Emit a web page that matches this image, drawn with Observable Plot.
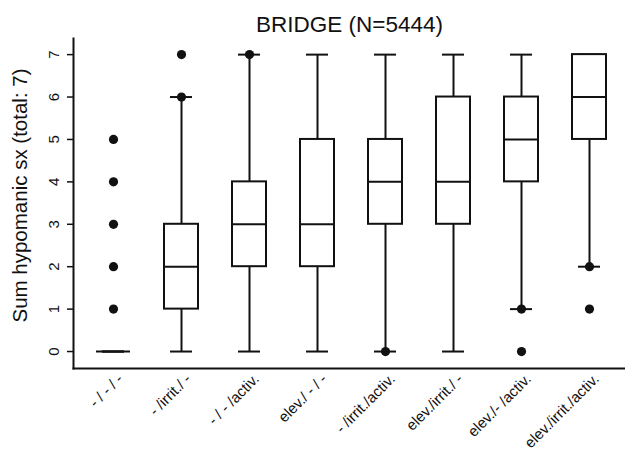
<!DOCTYPE html>
<html>
<head>
<meta charset="utf-8">
<script src="https://cdn.jsdelivr.net/npm/d3@7"></script>
<script src="https://cdn.jsdelivr.net/npm/@observablehq/plot@0.6"></script>
<style>
  body { margin: 0; background: #fff; }
</style>
</head>
<body>
<div id="chart"></div>
<script>
const title = "BRIDGE (N=5444)";
const yLabel = "Sum hypomanic sx (total: 7)";
const categories = ["- / - / -", "- /irrit./ -", "- / - /activ.", "elev./ - / -", "- /irrit./activ.", "elev./irrit./ -", "elev./- /activ.", "elev./irrit./activ."];
const q1 = [0, 1, 2, 2, 3, 3, 4, 5];
const median = [0, 2, 3, 3, 4, 4, 5, 6];
const q3 = [0, 3, 4, 5, 5, 6, 6, 7];
const whiskerLow = [0, 0, 0, 0, 0, 0, 1, 2];
const whiskerHigh = [0, 6, 7, 7, 7, 7, 7, 7];
const outliers = [[1, 2, 3, 4, 5], [6, 7], [7], [], [0], [], [1, 0], [2, 1]];
const yTicks = [0, 1, 2, 3, 4, 5, 6, 7];

const stats = categories.map((c, i) => ({
  cat: c, q1: q1[i], median: median[i], q3: q3[i], lo: whiskerLow[i], hi: whiskerHigh[i]
}));
const outlierRows = categories.flatMap((c, i) => outliers[i].map(v => ({cat: c, value: v})));

const chart = Plot.plot({
  width: 625,
  height: 454,
  marginLeft: 73,
  marginRight: 0,
  marginTop: 38,
  marginBottom: 86,
  style: {fontFamily: "'Liberation Sans', Arial, sans-serif", color: "#000", background: "#fff"},
  x: {domain: categories, padding: 0, insetLeft: 6, insetRight: 2, axis: null},
  y: {domain: [-0.4, 7.38], ticks: yTicks, axis: null},
  marks: [
    Plot.ruleX(stats, {x: "cat", y1: "lo", y2: "hi", stroke: "#111", strokeWidth: 2}),
    Plot.tickY(stats, {x: "cat", y: "lo", stroke: "#111", strokeWidth: 2, insetLeft: 23, insetRight: 23}),
    Plot.tickY(stats, {x: "cat", y: "hi", stroke: "#111", strokeWidth: 2, insetLeft: 23, insetRight: 23}),
    Plot.barY(stats, {x: "cat", y1: "q1", y2: "q3", fill: "white", stroke: "#111", strokeWidth: 2, insetLeft: 17, insetRight: 17}),
    Plot.tickY(stats, {x: "cat", y: "median", stroke: "#111", strokeWidth: 2, insetLeft: 17, insetRight: 17}),
    Plot.dot(outlierRows, {x: "cat", y: "value", r: 4.6, fill: "#111", stroke: "none"}),
    Plot.frame({anchor: "left", stroke: "#111", strokeWidth: 2}),
    Plot.frame({anchor: "bottom", stroke: "#111", strokeWidth: 2}),
    Plot.axisY(yTicks, {tickSize: 6, tickFormat: () => "", label: null, stroke: "#111", strokeWidth: 1.5}),
    Plot.text(yTicks, {y: d => d, text: d => String(d), frameAnchor: "left", textAnchor: "middle", dx: -19, rotate: -90, fontSize: 15, fill: "#111"}),
    Plot.text(categories, {x: d => d, text: d => d, frameAnchor: "bottom", textAnchor: "end", lineAnchor: "middle", rotate: -45, dx: 7, dy: 8, fontSize: 15, fill: "#111"}),
    Plot.text([title], {frameAnchor: "top", dy: -22, fontSize: 22.5, fill: "#111"}),
    Plot.text([yLabel], {frameAnchor: "left", textAnchor: "middle", dx: -53, dy: -8, rotate: -90, fontSize: 20.5, fill: "#111"})
  ]
});
document.getElementById("chart").appendChild(chart);
</script>
</body>
</html>
